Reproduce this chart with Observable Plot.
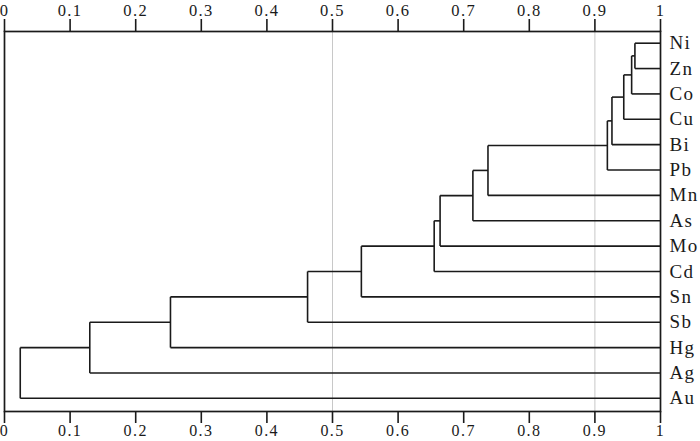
<!DOCTYPE html>
<html>
<head>
<meta charset="utf-8">
<script src="https://cdn.jsdelivr.net/npm/d3@7"></script>
<script src="https://cdn.jsdelivr.net/npm/@observablehq/plot@0.6"></script>
<style>
  html, body { margin: 0; padding: 0; background: #fff; }
</style>
</head>
<body>
<div id="chart"></div>
<script>
// Leaves (top to bottom)
const leaves = ["Ni","Zn","Co","Cu","Bi","Pb","Mn","As","Mo","Cd","Sn","Sb","Hg","Ag","Au"];
// Merges: left child, right child, height (similarity)
const mergeLeft  = ["Ni","M1","M2","M3","M4","M5","M6","M7","M8","M9","M10","M11","M12","M13"];
const mergeRight = ["Zn","Co","Cu","Bi","Pb","Mn","As","Mo","Cd","Sn","Sb","Hg","Ag","Au"];
const mergeHeights = [0.961, 0.956, 0.944, 0.926, 0.919, 0.737, 0.714, 0.664, 0.655, 0.544, 0.462, 0.253, 0.130, 0.024];
// Axis ticks
const tickValues = [0, 0.1, 0.2, 0.3, 0.4, 0.5, 0.6, 0.7, 0.8, 0.9, 1];
const tickLabels = ["0","0.1","0.2","0.3","0.4","0.5","0.6","0.7","0.8","0.9","1"];
// Reference lines
const guideLines = [0.5, 0.9];

// Build dendrogram segments
const pos = {};
leaves.forEach((l, i) => pos[l] = {x: 1, y: i});
const segments = [];
mergeHeights.forEach((h, k) => {
  const a = pos[mergeLeft[k]], b = pos[mergeRight[k]];
  segments.push({x1: h, y1: a.y, x2: h, y2: b.y});
  segments.push({x1: h, y1: a.y, x2: a.x, y2: a.y});
  segments.push({x1: h, y1: b.y, x2: b.x, y2: b.y});
  pos["M" + (k + 1)] = {x: h, y: (a.y + b.y) / 2};
});
const leafData = leaves.map((name, i) => ({name, i}));
const fmt = d => tickLabels[tickValues.findIndex(v => Math.abs(v - d) < 1e-9)];

const ink = "#1a1a1a";
const chart = Plot.plot({
  width: 700,
  height: 441,
  marginLeft: 4,
  marginRight: 40,
  marginTop: 31,
  marginBottom: 30,
  style: {fontFamily: "'Liberation Serif', serif", fontSize: "16px", color: ink, background: "#fff", letterSpacing: "1.4px"},
  x: {domain: [0, 1]},
  y: {type: "linear", domain: [14.52, -0.461], axis: null},
  marks: [
    Plot.ruleX(guideLines, {stroke: "#c8c8c8", strokeWidth: 1}),
    Plot.link(segments, {x1: "x1", y1: "y1", x2: "x2", y2: "y2", stroke: ink, strokeWidth: 1.6}),
    Plot.frame({stroke: ink, strokeWidth: 1.7}),
    Plot.axisX({anchor: "top", ticks: tickValues, tickFormat: fmt, tickSize: 13, tickPadding: 3, stroke: ink, strokeWidth: 1.6, fill: ink, fontSize: 16.5, label: null}),
    Plot.axisX({anchor: "bottom", ticks: tickValues, tickFormat: fmt, tickSize: 12, tickPadding: 1, stroke: ink, strokeWidth: 1.6, fill: ink, fontSize: 16, label: null}),
    Plot.text(leafData, {x: () => 1, y: "i", text: "name", dx: 9, textAnchor: "start", fontSize: 19, fill: ink})
  ]
});
document.getElementById("chart").appendChild(chart);
</script>
</body>
</html>
